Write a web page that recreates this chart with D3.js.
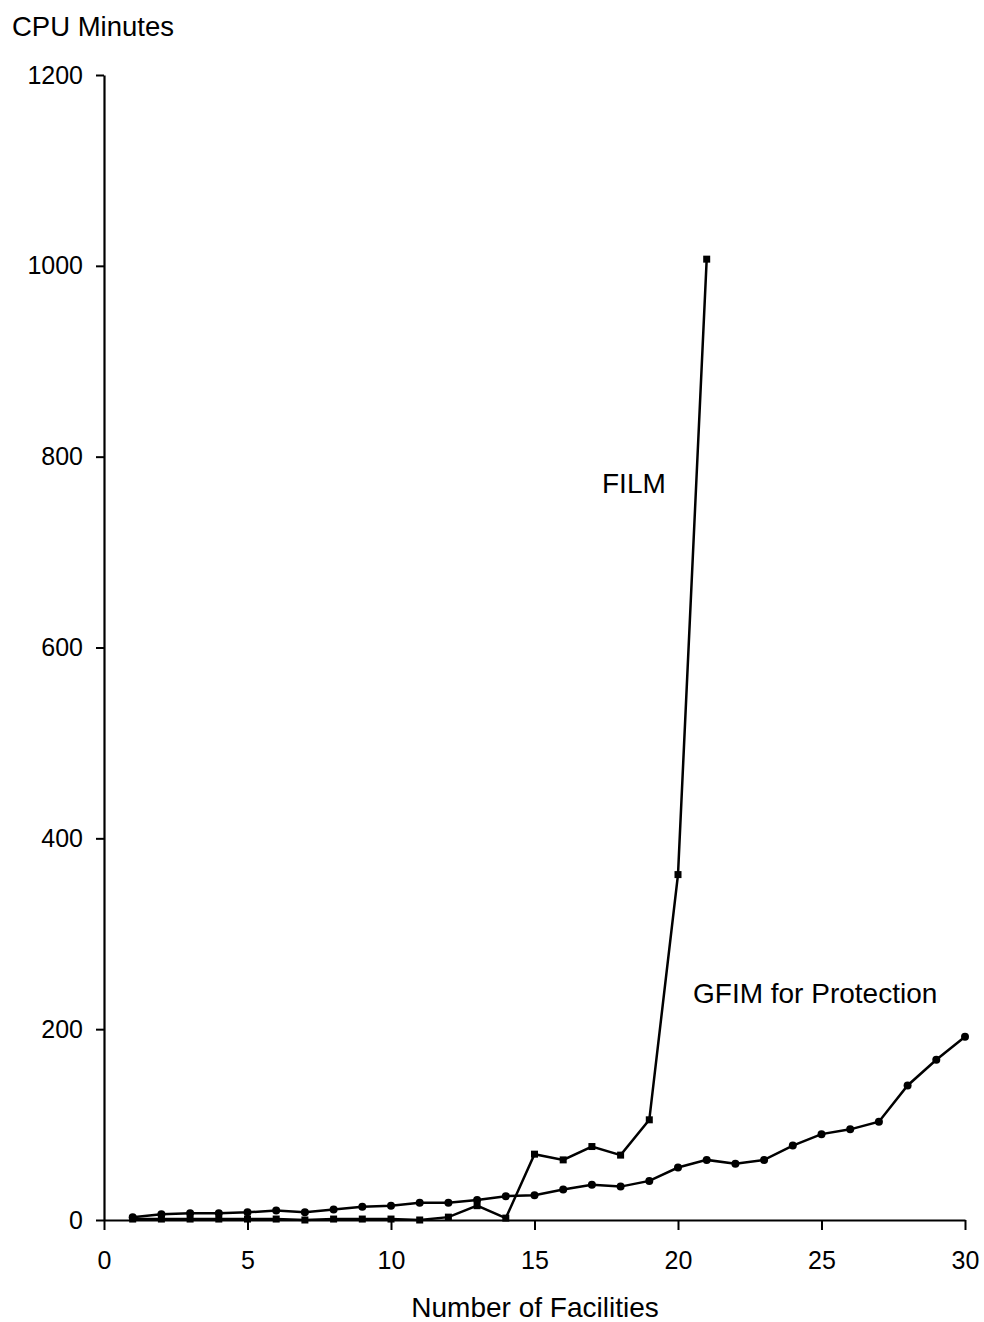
<!DOCTYPE html>
<html>
<head>
<meta charset="utf-8">
<script src="https://cdn.jsdelivr.net/npm/d3@7"></script>
<style>
  body { margin: 0; background: #fff; }
  svg text { font-family: "Liberation Sans", Arial, sans-serif; fill: #000; }
</style>
</head>
<body>
<div id="chart"></div>
<script>
// data
const facilities = d3.range(1, 31);
const filmX = d3.range(1, 22);
const filmValues = [1, 1, 1, 1, 1, 1, 0, 1, 1, 1, 0, 3, 15, 2, 69, 63, 77, 68, 105, 362, 1007];
const gfimValues = [3, 6, 7, 7, 8, 10, 8, 11, 14, 15, 18, 18, 21, 25, 26, 32, 37, 35, 41, 55,
                    63, 59, 63, 78, 90, 95, 103, 141, 168, 192];
const xTicks = [0, 5, 10, 15, 20, 25, 30];
const yTicks = [0, 200, 400, 600, 800, 1000, 1200];

class LineChart {
    constructor(parentElement) {
        this.parentElement = parentElement;
        this.initVis();
    }

    initVis() {
        this.width = 984;
        this.height = 1322;
        this.margin = { left: 104, right: 19, top: 75, bottom: 102 };

        this.svg = d3.select(this.parentElement).append('svg')
            .attr('width', this.width)
            .attr('height', this.height);

        this.x = d3.scaleLinear()
            .domain([0, 30])
            .range([this.margin.left, this.width - this.margin.right]);

        this.y = d3.scaleLinear()
            .domain([0, 1200])
            .range([this.height - this.margin.bottom, this.margin.top]);

        this.drawAxes();
        this.drawSeries();
        this.drawLabels();
    }

    drawAxes() {
        const xAxis = this.svg.append('g')
            .attr('transform', `translate(0,${this.y(0)})`)
            .call(d3.axisBottom(this.x).tickValues(xTicks).tickFormat(d3.format('d'))
                .tickSize(10).tickSizeOuter(0).tickPadding(21));

        const yAxis = this.svg.append('g')
            .attr('transform', `translate(${this.x(0)},0)`)
            .call(d3.axisLeft(this.y).tickValues(yTicks).tickFormat(d3.format('d'))
                .tickSize(8).tickSizeOuter(0).tickPadding(13));

        [xAxis, yAxis].forEach(a => {
            a.select('.domain').attr('stroke', '#000').attr('stroke-width', 2.2);
            a.selectAll('.tick line').attr('stroke', '#000').attr('stroke-width', 2);
            a.selectAll('.tick text')
                .style('font-size', '25px')
                .style('font-family', '"Liberation Sans", Arial, sans-serif');
        });
    }

    drawSeries() {
        const line = d3.line()
            .x(d => this.x(d[0]))
            .y(d => this.y(d[1]));

        const film = filmX.map((f, i) => [f, filmValues[i]]);
        const gfim = facilities.map((f, i) => [f, gfimValues[i]]);

        this.svg.append('path')
            .datum(gfim)
            .attr('d', line)
            .attr('fill', 'none')
            .attr('stroke', '#000')
            .attr('stroke-width', 2.5);

        this.svg.append('path')
            .datum(film)
            .attr('d', line)
            .attr('fill', 'none')
            .attr('stroke', '#000')
            .attr('stroke-width', 2.5);

        // circles for GFIM
        this.svg.selectAll('circle.gfim')
            .data(gfim)
            .enter().append('circle')
            .attr('class', 'gfim')
            .attr('cx', d => this.x(d[0]))
            .attr('cy', d => this.y(d[1]))
            .attr('r', 4)
            .attr('fill', '#000');

        // squares for FILM
        this.svg.selectAll('rect.film')
            .data(film)
            .enter().append('rect')
            .attr('class', 'film')
            .attr('x', d => this.x(d[0]) - 3.5)
            .attr('y', d => this.y(d[1]) - 3.5)
            .attr('width', 7)
            .attr('height', 7)
            .attr('fill', '#000');
    }

    drawLabels() {
        this.svg.append('text')
            .attr('x', 12)
            .attr('y', 36)
            .style('font-size', '27.5px')
            .text('CPU Minutes');

        this.svg.append('text')
            .attr('x', 535)
            .attr('y', 1317)
            .attr('text-anchor', 'middle')
            .style('font-size', '28px')
            .text('Number of Facilities');

        this.svg.append('text')
            .attr('x', 602)
            .attr('y', 493)
            .style('font-size', '28px')
            .text('FILM');

        this.svg.append('text')
            .attr('x', 693)
            .attr('y', 1003)
            .style('font-size', '28px')
            .text('GFIM for Protection');
    }
}

new LineChart('#chart');
</script>
</body>
</html>
